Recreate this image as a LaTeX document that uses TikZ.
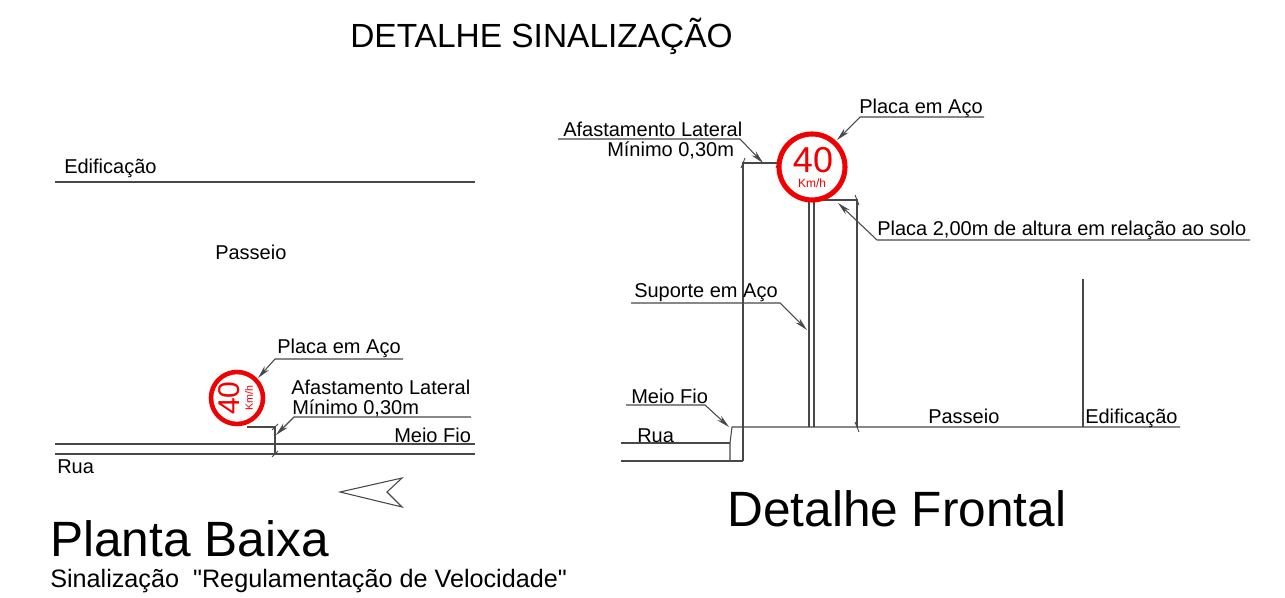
\documentclass[tikz,border=0pt]{standalone}
\usepackage{fontspec}
\setmainfont{Liberation Sans}[Ligatures=TeXOff]
\usetikzlibrary{arrows.meta}
\definecolor{linegray}{HTML}{484848}
\definecolor{signred}{HTML}{F00000}
\tikzset{
  lbl/.style={inner sep=0pt, anchor=base west, font=\fontsize{15}{15}\selectfont, text=black},
  big/.style={lbl, font=\fontsize{37.2}{37.2}\selectfont},
  ln/.style={draw=linegray, line width=0.8pt},
  leader/.style={ln, -{Stealth[length=10pt, width=4.5pt]}},
  tick/.style={ln, line width=0.7pt},
  ring/.style={circle, draw=signred, fill=white, inner sep=0pt},
  signtxt/.style={inner sep=0pt, text=signred}
}
\begin{document}
\begin{tikzpicture}[x=0.75pt, y=-0.75pt]
  \useasboundingbox (0,0) rectangle (1285,598);
  \node [lbl, font=\fontsize{25.1}{25.1}\selectfont] (title) at (350,48) {DETALHE SINALIZAÇÃO};

  % planta baixa
  \coordinate (edifA) at (55,182);
  \coordinate (edifB) at (475,182);
  \coordinate (guiaA) at (55,444);
  \coordinate (guiaB) at (475,444);
  \coordinate (ruaA) at (55,454);
  \coordinate (ruaB) at (475,454);
  \draw [ln] (edifA) -- (edifB);
  \draw [ln] (guiaA) -- (guiaB);
  \draw [ln] (ruaA) -- (ruaB);
  \node [lbl] (edifPlanta) at (64,174) {Edificação};
  \node [lbl] (passeioPlanta) at (215,260) {Passeio};
  \node [lbl] (placaPlanta) at (277,354) {Placa em Aço};
  \node [lbl] (afastPlanta) at (291,395) {Afastamento Lateral};
  \node [lbl] (minPlanta) at (292,415) {Mínimo 0,30m};
  \node [lbl] (fioPlanta) at (394,442) {Meio Fio};
  \node [lbl] (ruaPlanta) at (57,474) {Rua};

  \node [ring, line width=3.4pt, minimum size=39pt] (signPlanta) at (237,398) {};
  \node [signtxt, rotate=90, font=\fontsize{22.5}{22.5}\selectfont] (velPlanta) at (229,398) {40};
  \node [signtxt, rotate=90, font=\fontsize{8}{8}\selectfont] (kmPlanta) at (249,398) {Km/h};

  \coordinate (pA) at (403,359);
  \coordinate (pB) at (275,359);
  \coordinate (pC) at (258,378);
  \draw [leader] (pA) -- (pB) -- (pC);
  \coordinate (aA) at (471,417);
  \coordinate (aB) at (294,417);
  \coordinate (aC) at (276,435);
  \draw [leader] (aA) -- (aB) -- (aC);
  \coordinate (dA) at (247,427);
  \coordinate (dB) at (275,427);
  \coordinate (dC) at (275,454);
  \draw [ln] (dA) -- (dB) -- (dC);
  \foreach \p in {dB,dC} {
    \draw [tick] (\p) +(-3,3) -- +(3,-3);
  }
  \coordinate (setaA) at (340,492);
  \coordinate (setaB) at (402,478);
  \coordinate (setaC) at (387,492);
  \coordinate (setaD) at (402,507);
  \draw [ln] (setaA) -- (setaB) -- (setaC) -- (setaD) -- cycle;
  \node [big] (planta) at (50,556) {Planta Baixa};
  \node [lbl, font=\fontsize{18.9}{18.9}\selectfont] (sinal) at (50,587) {Sinalização\ \ "Regulamentação de Velocidade"};

  % detalhe frontal
  \coordinate (soloA) at (732,427);
  \coordinate (soloB) at (1180,427);
  \coordinate (fioA) at (621,443);
  \coordinate (fioB) at (730,443);
  \coordinate (fundoA) at (621,461);
  \coordinate (fundoB) at (743,461);
  \coordinate (fundoC) at (730,461);
  \coordinate (muroA) at (1083,279);
  \coordinate (muroB) at (1083,427);
  \draw [ln] (fundoC) -- (fioB) -- (soloA) -- (soloB);
  \draw [ln] (fioA) -- (fioB);
  \draw [ln] (fundoA) -- (fundoB);
  \draw [ln] (muroA) -- (muroB);
  \coordinate (posteA) at (809,202);
  \coordinate (posteB) at (809,427);
  \coordinate (posteC) at (814,202);
  \coordinate (posteD) at (814,427);
  \draw [ln] (posteA) -- (posteB);
  \draw [ln] (posteC) -- (posteD);

  \coordinate (lateralA) at (778,163);
  \coordinate (lateralB) at (743,163);
  \draw [ln] (lateralA) -- (lateralB) -- (fundoB);
  \coordinate (alturaA) at (815,200);
  \coordinate (alturaB) at (857,200);
  \coordinate (alturaC) at (857,427);
  \draw [ln] (alturaA) -- (alturaB) -- (alturaC);
  \foreach \p in {lateralA,lateralB} {
    \draw [tick] (\p) +(-2,5) -- +(2,-5);
  }
  \foreach \p in {alturaB,alturaC} {
    \draw [tick] (\p) +(-2,-5) -- +(2,5);
  }

  \node [ring, line width=3.8pt, minimum size=49.5pt] (signFrente) at (812,167) {};
  \node [signtxt, font=\fontsize{27}{27}\selectfont] (velFrente) at (813,160) {40};
  \node [signtxt, font=\fontsize{9}{9}\selectfont] (kmFrente) at (812,183) {Km/h};

  \node [lbl] (placaFrente) at (859,114) {Placa em Aço};
  \node [lbl] (afastFrente) at (563,137) {Afastamento Lateral};
  \node [lbl] (minFrente) at (607,157) {Mínimo 0,30m};
  \node [lbl] (alturaTxt) at (877,236) {Placa 2,00m de altura em relação ao solo};
  \node [lbl] (suporte) at (634,298) {Suporte em Aço};
  \node [lbl] (fioFrente) at (631,403) {Meio Fio};
  \node [lbl] (ruaFrente) at (637,442) {Rua};
  \node [lbl] (passeioFrente) at (928,423) {Passeio};
  \node [lbl] (edifFrente) at (1085,423) {Edificação};

  \coordinate (qA) at (984,117);
  \coordinate (qB) at (860,117);
  \coordinate (qC) at (837,140);
  \draw [leader] (qA) -- (qB) -- (qC);
  \coordinate (rA) at (558,139);
  \coordinate (rB) at (740,139);
  \coordinate (rC) at (763,163);
  \draw [leader] (rA) -- (rB) -- (rC);
  \coordinate (sA) at (1250,240);
  \coordinate (sB) at (877,240);
  \coordinate (sC) at (838,203);
  \draw [leader] (sA) -- (sB) -- (sC);
  \coordinate (tA) at (631,303);
  \coordinate (tB) at (780,303);
  \coordinate (tC) at (807,330);
  \draw [leader] (tA) -- (tB) -- (tC);
  \coordinate (uA) at (626,405);
  \coordinate (uB) at (705,405);
  \coordinate (uC) at (729,427);
  \draw [leader] (uA) -- (uB) -- (uC);
  \node [big] (frontal) at (727,526) {Detalhe Frontal};
\end{tikzpicture}
\end{document}
